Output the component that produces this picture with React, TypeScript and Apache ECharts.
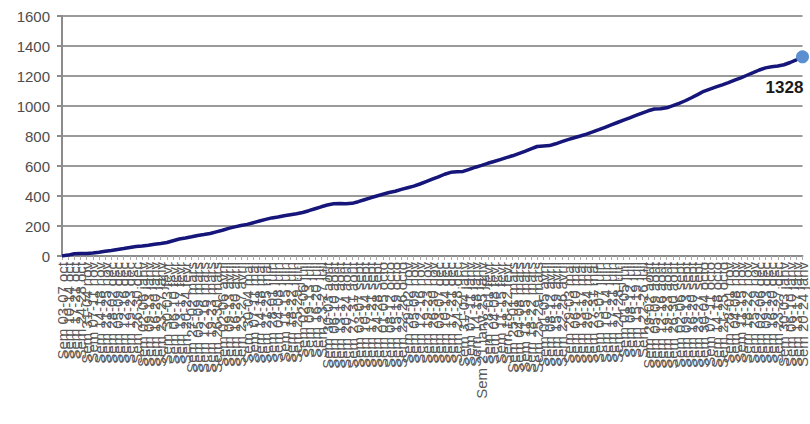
import React, { useEffect, useRef } from "react";
import * as echarts from "echarts";

// Weekly categories (Monday–Friday), October 2011 to January 2014
const weeks: string[] = [
  "Sem 03-07 oct", "Sem 10-14 oct", "Sem 17-21 oct", "Sem 24-28 oct", "Sem 31-04 nov",
  "Sem 07-11 nov", "Sem 14-18 nov", "Sem 21-25 nov", "Sem 28-02 déc", "Sem 05-09 déc",
  "Sem 12-16 déc", "Sem 19-23 déc", "Sem 26-30 déc",
  "Sem 02-06 janv", "Sem 09-13 janv", "Sem 16-20 janv", "Sem 23-27 janv", "Sem 30-03 févr",
  "Sem 06-10 févr", "Sem 13-17 févr", "Sem 20-24 févr", "Sem 27-02 mars", "Sem 05-09 mars",
  "Sem 12-16 mars", "Sem 19-23 mars", "Sem 26-30 mars", "Sem 02-06 avril", "Sem 09-13 avril",
  "Sem 16-20 avril", "Sem 23-27 avril", "Sem 30-04 mai", "Sem 07-11 mai", "Sem 14-18 mai",
  "Sem 21-25 mai", "Sem 28-01 juin", "Sem 04-08 juin", "Sem 11-15 juin", "Sem 18-22 juin",
  "Sem 25-29 juin", "Sem 02-06 juil", "Sem 09-13 juil", "Sem 16-20 juil", "Sem 23-27 juil",
  "Sem 30-03 août", "Sem 06-10 août", "Sem 13-17 août", "Sem 20-24 août", "Sem 27-31 août",
  "Sem 03-07 sept", "Sem 10-14 sept", "Sem 17-21 sept", "Sem 24-28 sept", "Sem 01-05 octo",
  "Sem 08-12 octo", "Sem 15-19 octo", "Sem 22-26 octo", "Sem 29-02 nov", "Sem 05-09 nov",
  "Sem 12-16 nov", "Sem 19-23 nov", "Sem 26-30 nov", "Sem 03-07 déc", "Sem 10-14 déc",
  "Sem 17-21 déc", "Sem 24-28 déc", "Sem 31-04 janv",
  "Sem 07-11 janv", "Sem 14-18 janv", "Sem 21 janv-25 janv", "Sem 28-01 févr", "Sem 04-08 févr",
  "Sem 11-15 févr", "Sem 18-22 févr", "Sem 25-01 mars", "Sem 04-08 mars", "Sem 11-15 mars",
  "Sem 18-22 mars", "Sem 25-29 mars", "Sem 01-05 avril", "Sem 08-12 avril", "Sem 15-19 avril",
  "Sem 22-26 avril", "Sem 29-03 mai", "Sem 06-10 mai", "Sem 13-17 mai", "Sem 20-24 mai",
  "Sem 27-31 mai", "Sem 03-07 juin", "Sem 10-14 juin", "Sem 17-21 juin", "Sem 24-28 juin",
  "Sem 01-05 juil", "Sem 08-12 juil", "Sem 15-19 juil", "Sem 22-26 juil", "Sem 29-02 août",
  "Sem 05-09 août", "Sem 12-16 août", "Sem 19-23 août", "Sem 26-30 août", "Sem 02-06 sept",
  "Sem 09-13 sept", "Sem 16-20 sept", "Sem 23-27 sept", "Sem 30-04 octo", "Sem 07-11 octo",
  "Sem 14-18 octo", "Sem 21-25 octo", "Sem 28-01 nov", "Sem 04-08 nov", "Sem 11-15 nov",
  "Sem 18-22 nov", "Sem 25-29 nov", "Sem 02-06 déc", "Sem 09-13 déc", "Sem 16-20 déc",
  "Sem 23-27 déc", "Sem 30-03 janv",
  "Sem 06-10 janv", "Sem 13-17 janv", "Sem 20-24 janv",
];

// Cumulative weekly total
const cumulative: number[] = [
  0, 6, 15, 16, 17, 20, 25, 31, 37, 44,
  50, 57, 63, 66, 72, 79, 84, 90, 102, 113,
  120, 128, 137, 143, 150, 161, 172, 184, 194, 203,
  211, 222, 233, 244, 254, 260, 268, 275, 282, 290,
  302, 315, 328, 340, 348, 350, 349, 351, 362, 375,
  388, 400, 412, 423, 432, 444, 455, 466, 480, 496,
  512, 528, 545, 558, 561, 564, 578, 592, 604, 618,
  630, 643, 656, 668, 683, 698, 714, 730, 734, 736,
  748, 762, 776, 788, 800, 813, 827, 842, 858, 874,
  890, 906, 921, 937, 953, 968, 980, 982, 988, 1002,
  1018, 1035, 1055, 1076, 1098, 1113, 1127, 1141, 1156, 1172,
  1188, 1205, 1222, 1240, 1254, 1262, 1267, 1275, 1290, 1308,
  1328,
];

const yTicks = { min: 0, max: 1600, interval: 200 };

const FONT = "'Liberation Sans', Arial, sans-serif";

export default function App() {
  const ref = useRef<HTMLDivElement>(null);

  useEffect(() => {
    if (!ref.current) return;
    const chart = echarts.init(ref.current, null, { renderer: "svg" });
    const last = cumulative.length - 1;
    const seriesData = cumulative.map((v, i) =>
      i === last
        ? {
            value: v,
            symbol: "circle",
            symbolSize: 13,
            itemStyle: { color: "#5b8fd0" },
            label: {
              show: true,
              position: "bottom",
              offset: [-18, 11],
              formatter: String(v),
              fontFamily: FONT,
              fontWeight: "bold",
              fontSize: 17,
              color: "#1a1a1a",
            },
          }
        : { value: v }
    );

    chart.setOption({
      animation: false,
      backgroundColor: "#ffffff",
      grid: { left: 62, right: 6, top: 16, bottom: 168, containLabel: false },
      xAxis: {
        type: "category",
        data: weeks,
        boundaryGap: false,
        axisLine: { lineStyle: { color: "#8c8c8c", width: 2 } },
        axisTick: { show: true, interval: 0, length: 4, lineStyle: { color: "#aaaaaa" } },
        axisLabel: {
          interval: 0,
          rotate: 90,
          margin: 6,
          fontSize: 15,
          fontFamily: FONT,
          color: "#5a5a5a",
        },
        splitLine: { show: false },
      },
      yAxis: {
        type: "value",
        min: yTicks.min,
        max: yTicks.max,
        interval: yTicks.interval,
        axisLine: { show: true, lineStyle: { color: "#8c8c8c", width: 2 } },
        axisTick: { show: true, length: 5, lineStyle: { color: "#8c8c8c", width: 2 } },
        axisLabel: {
          margin: 12,
          fontSize: 15,
          fontFamily: FONT,
          color: "#4d4d4d",
          formatter: (v: number) => String(v),
        },
        splitLine: { lineStyle: { color: "#9a9a9a", width: 2 } },
      },
      series: [
        {
          type: "line",
          data: seriesData,
          symbol: "none",
          showSymbol: true,
          showAllSymbol: true,
          lineStyle: { color: "#15157a", width: 3.5 },
          itemStyle: { color: "#15157a" },
          z: 3,
        },
      ],
    });

    return () => chart.dispose();
  }, []);

  return (
    <div
      ref={ref}
      style={{ position: "fixed", left: 0, top: 0, width: 810, height: 424, background: "#fff" }}
    />
  );
}
